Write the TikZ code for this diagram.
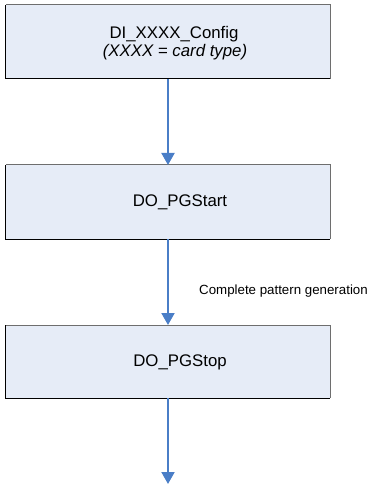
\documentclass[tikz,border=0pt]{standalone}
\usepackage{fontspec}
\setmainfont{Liberation Sans}
\usetikzlibrary{arrows.meta}
\definecolor{boxfill}{RGB}{230,236,247}
\definecolor{boxedge}{RGB}{110,110,110}
\definecolor{flowblue}{RGB}{74,126,199}
\begin{document}
\begin{tikzpicture}[x=1bp,y=-1bp,
  stage/.style={rectangle, fill=boxfill, draw=none, inner sep=0pt, outer sep=0pt,
    minimum width=324bp, minimum height=74bp},
  boxtext/.style={inner sep=0pt, anchor=base, font=\fontsize{16.8bp}{20bp}\selectfont},
  notetext/.style={inner sep=0pt, anchor=base west, font=\fontsize{13.3bp}{16bp}\selectfont},
  flow/.style={draw=flowblue, line width=2bp, -{Triangle[length=12bp,width=13bp]}},
  lightedge/.style={draw=boxedge, line width=1bp},
  darkedge/.style={draw=black, line width=1bp}
]
\useasboundingbox (0,0) rectangle (369,484);

% process boxes
\node[stage] (cfg) at (168,42) {};
\node[stage] (start) at (168,202) {};
\node[stage, minimum height=73bp] (stop) at (168,361.5) {};

% box borders: light top/right, dark left/bottom
\foreach \b in {cfg,start,stop}{
  \draw[lightedge] (\b.north west) -- (\b.north east) -- (\b.south east);
  \draw[darkedge] (\b.north west) -- (\b.south west) -- (\b.south east);
}

% box captions
\node[boxtext] (cfgname) at (174,39) {DI\_XXXX\_Config};
\node[boxtext] (cfgnote) at (175,57) {\itshape (XXXX = card type)};
\node[boxtext] (startname) at (180,206) {DO\_PGStart};
\node[boxtext] (stopname) at (180,366) {DO\_PGStop};

% flow arrows
\coordinate (exit) at (168,484);
\draw[flow] (cfg.south) -- (start.north);
\draw[flow] (start.south) -- (stop.north);
\draw[flow] (stop.south) -- (exit);

% transition note
\node[notetext] (pg) at (199,294) {Complete pattern generation};
\end{tikzpicture}
\end{document}
